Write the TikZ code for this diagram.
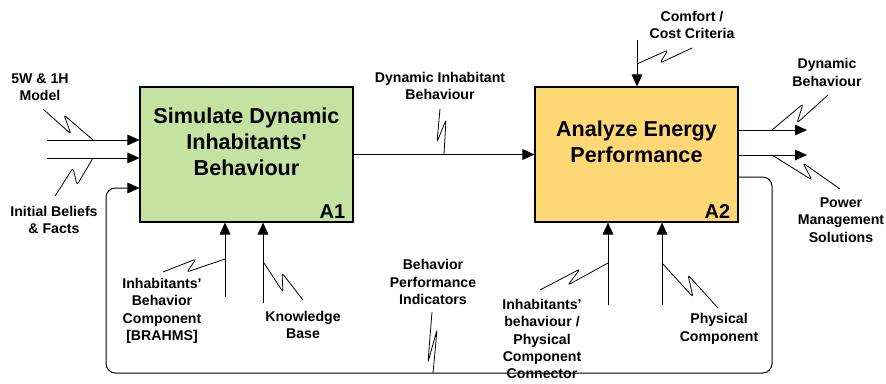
\documentclass[tikz,border=0pt]{standalone}
\usepackage{fontspec}
\setmainfont{Liberation Sans}[Ligatures=TeXOff]
\usetikzlibrary{arrows.meta,calc}
\definecolor{boxgreen}{RGB}{196,226,160}
\definecolor{boxyellow}{RGB}{255,216,117}
\begin{document}
\begin{tikzpicture}[x=0.75pt,y=-0.75pt,
  proc/.style={draw=black,line width=0.8pt,minimum height=101.25pt,inner sep=0pt},
  ttl/.style={align=center,font=\fontsize{16.2}{19.6}\selectfont\bfseries,inner sep=0pt},
  num/.style={font=\fontsize{15}{18}\selectfont\bfseries,inner sep=0pt,anchor=south east},
  lab/.style={align=center,font=\fontsize{10.6}{13}\selectfont\bfseries,inner sep=0pt},
  arr/.style={line width=0.75pt,-{Triangle[length=9pt,width=8pt]}},
  sq/.style={line width=0.6pt,rounded corners=2pt}]
\useasboundingbox (0,0) rectangle (886,383);

% boxes
\node[proc,fill=boxgreen,minimum width=159.75pt] (A1) at (246.5,154.5) {};
\node[proc,fill=boxyellow,minimum width=152.25pt] (A2) at (636.5,154.5) {};
\node[ttl] (t1) at (246.5,141.5) {Simulate Dynamic\\Inhabitants'\\Behaviour};
\node[ttl] (t2) at (636.5,141.5) {Analyze Energy\\Performance};
\node[num] (n1) at ($(A1.south east)+(-8,-4)$) {A1};
\node[num] (n2) at ($(A2.south east)+(-8,-4)$) {A2};

% labels
\node[lab] (l5w) at (40,87) {5W \& 1H\\Model};
\node[lab] (lib) at (54,220) {Initial Beliefs\\\& Facts};
\node[lab] (ldib) at (440,86) {Dynamic Inhabitant\\Behaviour};
\node[lab] (lcc) at (692,25) {Comfort /\\Cost Criteria};
\node[lab] (ldb) at (827,72.5) {Dynamic\\Behaviour};
\node[lab] (lpms) at (841,220) {Power\\Management\\Solutions};
\node[lab] (libc) at (162,311) {Inhabitants’\\Behavior\\Component\\{}[BRAHMS]};
\node[lab] (lkb) at (303,325) {Knowledge\\Base};
\node[lab] (lbpi) at (433,282) {Behavior\\Performance\\Indicators};
\node[lab] (libpc) at (542,339) {Inhabitants’\\behaviour /\\Physical\\Component\\Connector};
\node[lab] (lpc) at (719,329) {Physical\\Component};

% free ends
\coordinate (in1) at (47,140);
\coordinate (in2) at (47,158);
\coordinate (o1) at (807,130);
\coordinate (o2) at (807,155);
\coordinate (c1) at (637,40);
\coordinate (m1) at (225,297);
\coordinate (m2) at (263,303);
\coordinate (m3) at (608,305);
\coordinate (m4) at (662,305);

% connectors
\draw[arr] (in1) -- (in1 -| A1.west);
\draw[arr] (in2) -- (in2 -| A1.west);
\draw[arr] (A1.east) -- (A2.west);
\draw[arr] (o1 -| A2.east) -- (o1);
\draw[arr] (o2 -| A2.east) -- (o2);
\draw[arr] (c1) -- (c1 |- A2.north);
\draw[arr] (m1) -- (m1 |- A1.south);
\draw[arr] (m2) -- (m2 |- A1.south);
\draw[arr] (m3) -- (m3 |- A2.south);
\draw[arr] (m4) -- (m4 |- A2.south);
\draw[arr,rounded corners=7pt] ($(A2.east)+(0,22.5)$) -- (772,177) -- (772,373)
  -- (106,373) -- (106,188) -- ($(A1.west)+(0,33.5)$);

% squiggles
\draw[sq] (43,109) -- (71,134) -- (64,115) -- (93,140);
\draw[sq] (55,196) -- (73,168) -- (77,185) -- (93,158);
\draw[sq] (440,109) -- (437,142) -- (446,120) -- (444,154);
\draw[sq] (692,48) -- (660,63) -- (668,50) -- (637,64);
\draw[sq] (828,95) -- (797,123) -- (803,104) -- (772,130);
\draw[sq] (772,155) -- (812,180) -- (803,163) -- (840,189);
\draw[sq] (163,272) -- (196,259) -- (187,272) -- (225,259);
\draw[sq] (264,263) -- (283,292) -- (282,273) -- (303,300);
\draw[sq] (432,312) -- (428,362) -- (437,330) -- (433,373);
\draw[sq] (540,290) -- (580,269) -- (568,285) -- (608,263);
\draw[sq] (662,263) -- (693,297) -- (688,275) -- (718,308);
\end{tikzpicture}
\end{document}
